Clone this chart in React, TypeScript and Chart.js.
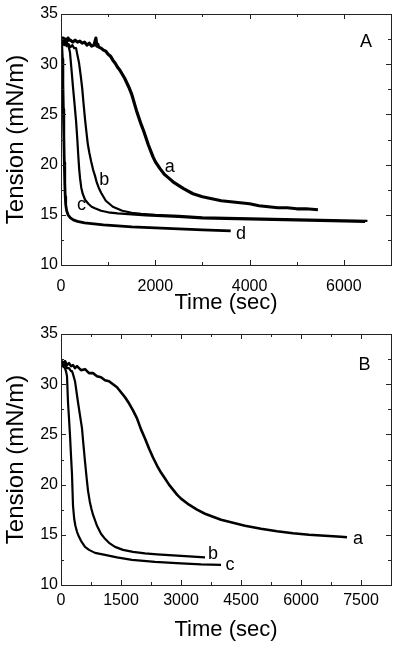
import React, { useEffect, useRef } from "react";
import { Chart, registerables } from "chart.js";

Chart.register(...registerables);

// ---------------- Panel A data ----------------
const A_a_t = [0, 25, 50, 75, 100, 125, 150, 175, 200, 250, 300, 350, 400, 450, 500, 550, 600, 650, 700, 740, 760, 780, 800, 850, 900, 950, 1000, 1050, 1100, 1150, 1200, 1250, 1300, 1350, 1400, 1450, 1500, 1550, 1600, 1650, 1700, 1750, 1800, 1850, 1900, 1950, 2000, 2100, 2200, 2300, 2400, 2500, 2600, 2800, 3000, 3200, 3400, 3600, 3800, 4000, 4200, 4400, 4600, 4800, 5000, 5200, 5450];
const A_a_v = [32.7, 32.5, 32.6, 32.3, 32.5, 32.3, 32.6, 32.4, 32.4, 32.2, 32.4, 32.2, 32.3, 32.1, 32.2, 31.9, 32.1, 31.8, 31.9, 32.6, 31.8, 32.0, 31.7, 31.6, 31.4, 31.3, 31.0, 30.8, 30.4, 30.1, 29.7, 29.4, 29.0, 28.6, 28.1, 27.6, 27.0, 26.2, 25.4, 24.7, 24.0, 23.4, 22.7, 22.0, 21.4, 20.8, 20.3, 19.6, 19.0, 18.6, 18.2, 17.9, 17.6, 17.1, 16.8, 16.6, 16.4, 16.3, 16.2, 16.1, 15.9, 15.8, 15.7, 15.7, 15.6, 15.6, 15.5];

const A_b_t = [0, 40, 80, 120, 160, 200, 240, 280, 320, 340, 380, 420, 450, 480, 510, 540, 570, 600, 640, 680, 720, 760, 800, 850, 900, 950, 1000, 1100, 1200, 1300, 1400, 1500, 1700, 2000, 2500, 3000, 3500, 4000, 4500, 5000, 5500, 6000, 6500];
const A_b_v = [32.2, 31.9, 32.3, 31.8, 32.0, 31.7, 31.9, 31.6, 31.6, 31.1, 30.2, 28.8, 27.6, 26.0, 24.5, 23.2, 22.0, 21.2, 20.3, 19.5, 18.9, 18.2, 17.7, 17.2, 16.8, 16.4, 16.2, 15.8, 15.6, 15.4, 15.3, 15.2, 15.1, 15.0, 14.9, 14.75, 14.7, 14.65, 14.6, 14.55, 14.5, 14.45, 14.4];

const A_c_t = [0, 40, 80, 120, 160, 190, 220, 255, 290, 320, 345, 365, 385, 405, 430, 460, 510, 580, 650, 720, 850, 1000, 1200, 1500, 1800, 2500, 3000, 4000, 5000, 6000, 6450];
const A_c_v = [32.0, 32.4, 31.9, 32.2, 31.8, 31.2, 29.6, 27.7, 25.9, 24.3, 22.6, 21.0, 19.6, 18.6, 17.7, 17.1, 16.5, 16.1, 15.8, 15.65, 15.4, 15.25, 15.15, 15.05, 14.95, 14.8, 14.65, 14.55, 14.45, 14.35, 14.3];

const A_d_t = [0, 15, 30, 40, 50, 60, 70, 80, 90, 100, 120, 150, 200, 260, 350, 500, 700, 900, 1200, 1500, 2000, 2500, 3000, 3600];
const A_d_v = [32.5, 31.9, 30.5, 28.0, 25.5, 22.8, 20.2, 18.2, 16.8, 16.0, 15.4, 15.0, 14.7, 14.5, 14.35, 14.2, 14.1, 14.0, 13.9, 13.8, 13.7, 13.6, 13.5, 13.4];

const A_label_text = ["a", "b", "c", "d", "A"];
const A_label_t = [2309, 915, 436, 3819, 6468];
const A_label_v = [19.26, 17.97, 15.48, 12.59, 31.71];

const A_x_ticks = [0, 2000, 4000, 6000];
const A_x_max = 7000;

// ---------------- Panel B data ----------------
const B_a_t = [0, 50, 100, 150, 200, 250, 300, 350, 400, 500, 600, 700, 800, 900, 1000, 1100, 1200, 1300, 1400, 1500, 1600, 1700, 1800, 1900, 2000, 2100, 2200, 2300, 2400, 2500, 2600, 2700, 2800, 2900, 3000, 3200, 3400, 3600, 3800, 4000, 4300, 4600, 5000, 5400, 5800, 6200, 6600, 7000, 7150];
const B_a_v = [32.4, 32.1, 32.3, 31.9, 32.1, 31.8, 31.9, 31.6, 31.8, 31.4, 31.5, 31.1, 31.1, 30.8, 30.7, 30.4, 30.3, 30.0, 29.7, 29.2, 28.7, 28.1, 27.4, 26.6, 25.5, 24.6, 23.6, 22.7, 21.9, 21.2, 20.6, 20.0, 19.5, 19.0, 18.6, 18.0, 17.5, 17.1, 16.8, 16.5, 16.2, 15.9, 15.6, 15.35, 15.15, 15.0, 14.9, 14.8, 14.75];

const B_b_t = [0, 50, 100, 150, 200, 250, 275, 300, 350, 400, 425, 475, 525, 560, 600, 640, 675, 720, 760, 800, 900, 1000, 1100, 1200, 1350, 1550, 1800, 2100, 2400, 2800, 3200, 3600];
const B_b_v = [32.1, 31.8, 32.0, 31.6, 31.6, 31.3, 31.3, 31.0, 30.3, 28.9, 28.2, 26.9, 25.6, 24.0, 22.3, 20.7, 19.4, 18.3, 17.6, 17.0, 15.9, 15.1, 14.6, 14.2, 13.8, 13.5, 13.3, 13.15, 13.05, 12.95, 12.85, 12.75];

const B_c_t = [0, 50, 100, 130, 150, 175, 200, 225, 250, 275, 300, 330, 360, 400, 450, 500, 600, 700, 850, 1100, 1400, 1775, 2350, 3000, 3500, 4000];
const B_c_v = [32.1, 31.8, 31.6, 31.2, 30.8, 28.2, 26.6, 24.9, 22.9, 21.0, 17.9, 16.6, 15.9, 15.3, 14.8, 14.4, 13.8, 13.5, 13.2, 13.0, 12.75, 12.5, 12.3, 12.15, 12.05, 12.0];

const B_label_text = ["a", "b", "c", "B"];
const B_label_t = [7425, 3800, 4225, 7588];
const B_label_v = [14.08, 12.59, 11.49, 31.41];

const B_x_ticks = [0, 1500, 3000, 4500, 6000, 7500];
const B_x_max = 8250;

const Y_ticks = [10, 15, 20, 25, 30, 35];
const Y_min = 10;
const Y_max = 35;

const FONT = "'Liberation Sans', Arial, Helvetica, sans-serif";

const pts = (t: number[], v: number[]) => t.map((x, i) => ({ x, y: v[i] }));

const frameTicks = {
  id: "frameTicks",
  afterDatasetsDraw(chart: any, _args: any, opts: any) {
    const { ctx, chartArea } = chart;
    const { left, right, top, bottom } = chartArea;
    const xs = chart.scales.x;
    const ys = chart.scales.y;
    ctx.save();
    ctx.strokeStyle = "#222";
    ctx.lineWidth = 1;
    ctx.strokeRect(Math.round(left) + 0.5, Math.round(top) + 0.5, Math.round(right - left), Math.round(bottom - top));
    ctx.beginPath();
    for (let v = xs.min; v <= xs.max + 1e-6; v += opts.xMinor) {
      const p = Math.round(xs.getPixelForValue(v)) + 0.5;
      const len = Math.abs(v % opts.xMajor) < 1e-6 ? 5 : 3;
      ctx.moveTo(p, bottom);
      ctx.lineTo(p, bottom - len);
      ctx.moveTo(p, top);
      ctx.lineTo(p, top + len);
    }
    for (let v = ys.min; v <= ys.max + 1e-6; v += opts.yMinor) {
      const p = Math.round(ys.getPixelForValue(v)) + 0.5;
      const len = Math.abs(v % opts.yMajor) < 1e-6 ? 5 : 3;
      ctx.moveTo(left, p);
      ctx.lineTo(left + len, p);
      ctx.moveTo(right, p);
      ctx.lineTo(right - len, p);
    }
    ctx.stroke();
    // curve labels
    ctx.fillStyle = "#000";
    ctx.font = `18px ${FONT}`;
    ctx.textAlign = "center";
    ctx.textBaseline = "alphabetic";
    const { text, t, v } = opts.labels;
    text.forEach((s: string, i: number) => {
      ctx.fillText(s, xs.getPixelForValue(t[i]), ys.getPixelForValue(v[i]));
    });
    ctx.restore();
  },
};

type PanelProps = {
  series: { t: number[]; v: number[]; w: number }[];
  xMax: number;
  xTicks: number[];
  xMinor: number;
  xMajor: number;
  labels: { text: string[]; t: number[]; v: number[] };
  height: number;
  xTickPad: number;
  padBottom: number;
};

function Panel(props: PanelProps) {
  const ref = useRef<HTMLCanvasElement | null>(null);
  useEffect(() => {
    if (!ref.current) return;
    const xScaleH = props.height - 265 - props.padBottom;
    const chart = new Chart(ref.current, {
      type: "scatter",
      data: {
        datasets: props.series.map((s) => ({
          data: pts(s.t, s.v),
          showLine: true,
          borderColor: "#000",
          backgroundColor: "#000",
          borderWidth: s.w,
          borderJoinStyle: "round",
          pointRadius: 0,
          tension: 0,
        })),
      },
      options: {
        animation: false,
        responsive: false,
        devicePixelRatio: 1,
        events: [],
        layout: { padding: { left: 0, right: 10, top: 14, bottom: props.padBottom } },
        plugins: {
          legend: { display: false },
          tooltip: { enabled: false },
          frameTicks: { xMinor: props.xMinor, xMajor: props.xMajor, yMinor: 2.5, yMajor: 5, labels: props.labels },
        } as any,
        scales: {
          x: {
            type: "linear",
            min: 0,
            max: props.xMax,
            grid: { display: false, drawTicks: false },
            border: { display: false },
            afterBuildTicks: (sc: any) => {
              sc.ticks = props.xTicks.map((value) => ({ value }));
            },
            afterFit: (sc: any) => {
              sc.height = xScaleH;
            },
            ticks: {
              color: "#000",
              padding: props.xTickPad,
              maxRotation: 0,
              autoSkip: false,
              callback: (v: any) => String(v),
              font: { family: FONT, size: 16 },
            },
            title: {
              display: true,
              text: "Time (sec)",
              color: "#000",
              font: { family: FONT, size: 22 },
              padding: { top: 0, bottom: 0 },
            },
          },
          y: {
            type: "linear",
            min: Y_min,
            max: Y_max,
            grid: { display: false, drawTicks: false },
            border: { display: false },
            afterBuildTicks: (sc: any) => {
              sc.ticks = Y_ticks.map((value) => ({ value }));
            },
            afterFit: (sc: any) => {
              sc.width = 61;
            },
            ticks: {
              color: "#000",
              padding: 3,
              autoSkip: false,
              callback: (v: any) => String(v),
              font: { family: FONT, size: 16 },
            },
            title: {
              display: true,
              text: "Tension (mN/m)",
              color: "#000",
              font: { family: FONT, size: 24 },
              padding: { top: 2, bottom: 0 },
            },
          },
        },
      },
      plugins: [frameTicks],
    } as any);
    return () => chart.destroy();
  }, []);
  return (
    <div style={{ width: 401, height: props.height }}>
      <canvas ref={ref} width={401} height={props.height} style={{ display: "block" }} />
    </div>
  );
}

export default function App() {
  return (
    <div style={{ position: "absolute", left: 0, top: 0, width: 401, height: 651, background: "#fff" }}>
      <Panel
        series={[
          { t: A_a_t, v: A_a_v, w: 3.2 },
          { t: A_b_t, v: A_b_v, w: 2.2 },
          { t: A_c_t, v: A_c_v, w: 2.2 },
          { t: A_d_t, v: A_d_v, w: 2.8 },
        ]}
        xMax={A_x_max}
        xTicks={A_x_ticks}
        xMinor={1000}
        xMajor={2000}
        labels={{ text: A_label_text, t: A_label_t, v: A_label_v }}
        height={320}
        xTickPad={12}
        padBottom={4}
      />
      <Panel
        series={[
          { t: B_a_t, v: B_a_v, w: 2.6 },
          { t: B_b_t, v: B_b_v, w: 2.2 },
          { t: B_c_t, v: B_c_v, w: 2.2 },
        ]}
        xMax={B_x_max}
        xTicks={B_x_ticks}
        xMinor={750}
        xMajor={1500}
        labels={{ text: B_label_text, t: B_label_t, v: B_label_v }}
        height={331}
        xTickPad={6}
        padBottom={8}
      />
    </div>
  );
}
